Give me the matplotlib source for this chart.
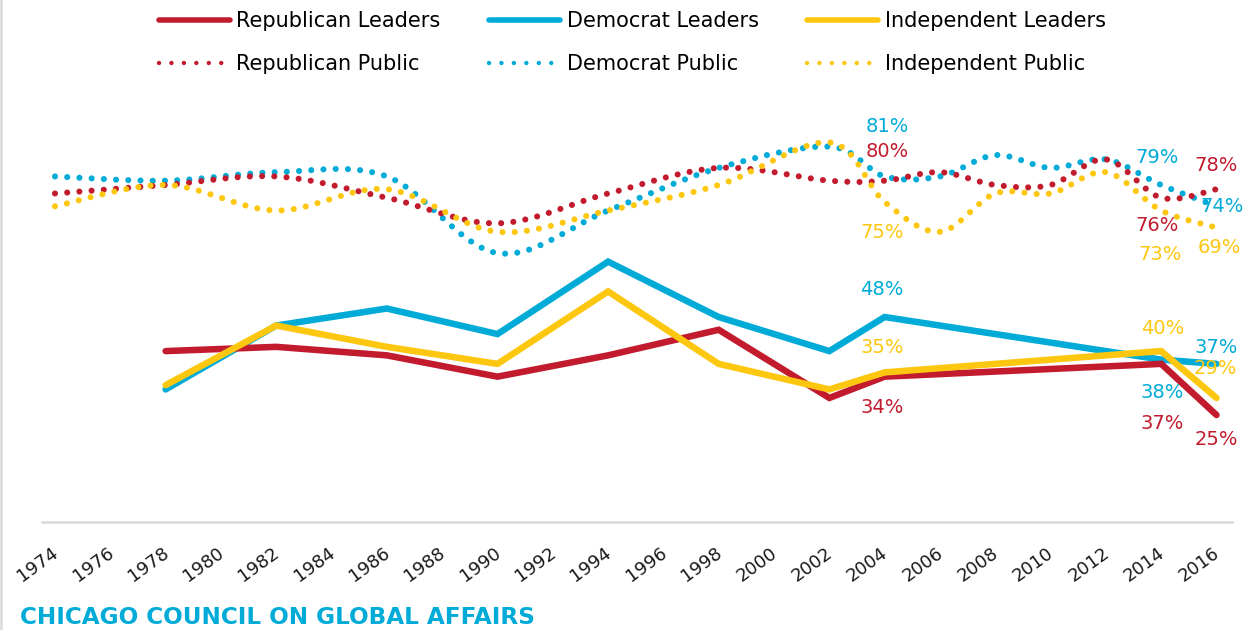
import numpy as np
import matplotlib.pyplot as plt
import matplotlib.transforms as mtransforms
from matplotlib.path import Path
from matplotlib.patches import PathPatch
from matplotlib.lines import Line2D

# Survey years
years_public = [1974, 1978, 1982, 1986, 1990, 1994, 1998, 2002, 2004, 2006, 2008, 2010, 2012, 2014, 2016]
years_leaders = [1978, 1982, 1986, 1990, 1994, 1998, 2002, 2004, 2014, 2016]

# Percent who favour an active part in world affairs
rep_public = [77, 79, 81, 76, 70, 77, 83, 80, 80, 82, 79, 79, 85, 76, 78]
dem_public = [81, 80, 82, 81, 63, 73, 83, 88, 81, 81, 86, 83, 85, 79, 74]
ind_public = [74, 79, 73, 78, 68, 73, 79, 89, 75, 68, 77, 77, 82, 73, 69]

rep_leaders = [40, 41, 39, 34, 39, 45, 29, 34, 37, 25]
dem_leaders = [31, 46, 50, 44, 61, 48, 40, 48, 38, 37]
ind_leaders = [32, 46, 41, 37, 54, 37, 31, 35, 40, 29]

tick_years = list(range(1974, 2017, 2))

RED = "#c21b2e"
BLUE = "#00abd8"
YELLOW = "#fec70f"

plt.rcParams['font.family'] = ['DejaVu Sans']

fig = plt.figure(figsize=(12.47, 6.30), dpi=100)
ax = fig.add_axes([42 / 1247, 1 - 521.5 / 630, 1190 / 1247, 426 / 630])


def smooth_path(xs, ys):
    # Excel-like smoothed line: cubic bezier through every point (Catmull-Rom tangents)
    pts = np.column_stack([xs, ys]).astype(float)
    ext = np.vstack([pts[0], pts, pts[-1]])
    verts = [pts[0]]
    codes = [Path.MOVETO]
    for i in range(len(pts) - 1):
        p0, p1, p2, p3 = ext[i], ext[i + 1], ext[i + 2], ext[i + 3]
        verts += [p1 + (p2 - p0) / 6, p2 - (p3 - p1) / 6, p2]
        codes += [Path.CURVE4] * 3
    return Path(verts, codes)


dot_lw = 4.4
dot_style = (0, (0.001, 2.0))

for ys, c in [(dem_public, BLUE), (rep_public, RED), (ind_public, YELLOW)]:
    patch = PathPatch(smooth_path(years_public, ys), fill=False, edgecolor=c,
                      linewidth=dot_lw, linestyle=dot_style, capstyle='round', zorder=2)
    ax.add_patch(patch)

for ys, c in [(dem_leaders, BLUE), (rep_leaders, RED), (ind_leaders, YELLOW)]:
    ax.plot(years_leaders, ys, color=c, linewidth=4.7, solid_capstyle='round',
            solid_joinstyle='miter', zorder=3)

# value labels: (series years, series values, year, colour, offset in points)
labels = [
    (years_public, dem_public, 2004, BLUE, (2, 36)),
    (years_public, rep_public, 2004, RED, (2, 21)),
    (years_public, ind_public, 2004, YELLOW, (-2, -22)),
    (years_leaders, dem_leaders, 2004, BLUE, (-2, 20)),
    (years_leaders, ind_leaders, 2004, YELLOW, (-2, 18)),
    (years_leaders, rep_leaders, 2004, RED, (-2, -22)),
    (years_public, dem_public, 2014, BLUE, (-3, 20)),
    (years_public, rep_public, 2014, RED, (-3, -20)),
    (years_public, ind_public, 2014, YELLOW, (-1, -32)),
    (years_leaders, ind_leaders, 2014, YELLOW, (1, 16)),
    (years_leaders, dem_leaders, 2014, BLUE, (1, -24)),
    (years_leaders, rep_leaders, 2014, RED, (1, -43)),
    (years_public, rep_public, 2016, RED, (0, 17)),
    (years_public, dem_public, 2016, BLUE, (4, 0)),
    (years_public, ind_public, 2016, YELLOW, (2, -14)),
    (years_leaders, dem_leaders, 2016, BLUE, (0, 12)),
    (years_leaders, ind_leaders, 2016, YELLOW, (-1, 21)),
    (years_leaders, rep_leaders, 2016, RED, (0, -18)),
]
for yrs, vals, yr, c, off in labels:
    v = vals[yrs.index(yr)]
    ax.annotate(f"{v}%", (yr, v), xytext=off, textcoords='offset points',
                ha='center', va='center', color=c, fontsize=14, zorder=5)

ax.set_xlim(1973.53, 2016.56)
ax.set_ylim(0, 100)
ax.set_yticks([])
ax.set_xticks(tick_years)
ax.set_xticklabels([str(y) for y in tick_years], rotation=36, ha='right',
                   rotation_mode='anchor', fontsize=13, color='#1a1a1a')
ax.tick_params(axis='x', length=0, pad=16)
shift = mtransforms.ScaledTranslation(-4 / 100, 0, fig.dpi_scale_trans)
for lab in ax.get_xticklabels():
    lab.set_transform(lab.get_transform() + shift)
for s in ['top', 'right', 'left']:
    ax.spines[s].set_visible(False)
ax.spines['bottom'].set_color('#d9d9d9')
ax.spines['bottom'].set_linewidth(1.8)

handles = [
    Line2D([], [], color=RED, lw=4, solid_capstyle='round'),
    Line2D([], [], color=RED, lw=3.2, linestyle=(0, (0.001, 2.8)), dash_capstyle='round'),
    Line2D([], [], color=BLUE, lw=4, solid_capstyle='round'),
    Line2D([], [], color=BLUE, lw=3.2, linestyle=(0, (0.001, 2.8)), dash_capstyle='round'),
    Line2D([], [], color=YELLOW, lw=4, solid_capstyle='round'),
    Line2D([], [], color=YELLOW, lw=3.2, linestyle=(0, (0.001, 2.8)), dash_capstyle='round'),
]
names = ["Republican Leaders", "Republican Public", "Democrat Leaders",
         "Democrat Public", "Independent Leaders", "Independent Public"]
fig.legend(handles, names, ncol=3, loc='upper left', bbox_to_anchor=(155 / 1247, 1 - 7 / 630),
           frameon=False, fontsize=15, handlelength=3.4, handletextpad=0.3,
           columnspacing=2.35, labelspacing=1.1, borderaxespad=0.0, borderpad=0.2)

fig.text(20 / 1247, 1 - 618 / 630, "CHICAGO COUNCIL ON GLOBAL AFFAIRS", color=BLUE,
         fontsize=16.7, fontweight='bold', va='center', ha='left')

fig.add_artist(Line2D([1.2 / 1247, 1.2 / 1247], [0, 1], color='#d9d9d9', lw=1.8))

fig.savefig("out.png", dpi=100)
